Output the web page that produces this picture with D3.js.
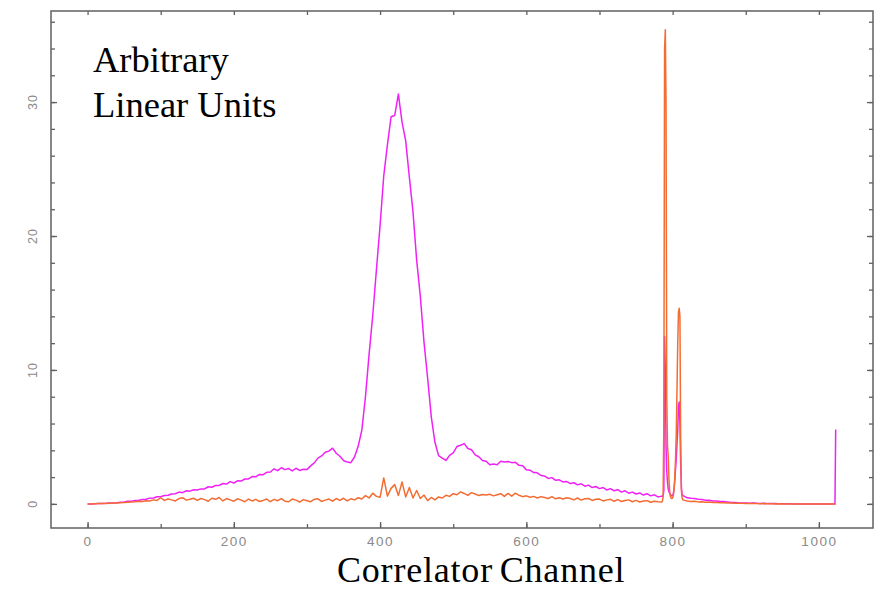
<!DOCTYPE html>
<html>
<head>
<meta charset="utf-8">
<script src="https://cdn.jsdelivr.net/npm/d3@7"></script>
<style>
  body { margin: 0; background: #fff; }
  svg { display: block; }
  .tick text { font-family: 'Liberation Sans', Arial, sans-serif; fill: #8a8a8a; }
  .label { font-family: 'Liberation Serif', 'Times New Roman', serif; fill: #000; }
</style>
</head>
<body>
<svg id="chart" width="888" height="590"></svg>
<script>
// correlator channels: coarse where smooth, every channel around the spikes
const channel = [].concat(
  d3.range(0, 786, 5),
  d3.range(786, 816),
  d3.range(820, 1021, 5),
  [1022, 1023]
)

// magenta trace
const magenta = [
  // 0 - 45
  0.00, 0.00, 0.01, 0.02, 0.03, 0.04, 0.06, 0.07, 0.09, 0.12,
  // 50 - 95
  0.14, 0.19, 0.20, 0.26, 0.27, 0.33, 0.34, 0.43, 0.44, 0.53,
  // 100 - 145
  0.54, 0.62, 0.64, 0.74, 0.76, 0.88, 0.84, 0.98, 0.95, 1.06,
  // 150 - 195
  1.04, 1.12, 1.12, 1.28, 1.24, 1.38, 1.38, 1.52, 1.48, 1.66,
  // 200 - 245
  1.56, 1.72, 1.70, 1.86, 1.86, 2.04, 2.02, 2.20, 2.18, 2.36,
  // 250 - 295
  2.38, 2.62, 2.48, 2.70, 2.56, 2.64, 2.46, 2.66, 2.50, 2.58,
  // 300 - 345
  2.56, 2.84, 3.06, 3.42, 3.58, 3.86, 3.94, 4.16, 3.78, 3.56,
  // 350 - 395
  3.24, 3.12, 3.08, 3.50, 4.30, 5.50, 8.00, 11.2, 14.1, 17.5,
  // 400 - 445
  20.8, 24.5, 26.8, 28.9, 29.0, 30.6, 28.5, 27.1, 24.4, 21.8,
  // 450 - 495
  18.2, 15.5, 12.1, 9.4, 6.5, 4.6, 3.6, 3.42, 3.24, 3.62,
  // 500 - 545
  3.80, 4.28, 4.38, 4.50, 4.14, 4.04, 3.66, 3.52, 3.24, 3.18,
  // 550 - 595
  2.92, 2.98, 2.92, 3.18, 3.12, 3.16, 3.08, 3.10, 2.88, 2.84,
  // 600 - 645
  2.54, 2.52, 2.34, 2.32, 2.12, 2.08, 1.90, 1.96, 1.76, 1.80,
  // 650 - 695
  1.64, 1.68, 1.52, 1.58, 1.42, 1.50, 1.32, 1.40, 1.22, 1.30,
  // 700 - 745
  1.14, 1.22, 1.04, 1.14, 0.98, 1.06, 0.88, 0.98, 0.80, 0.88,
  // 750 - 785
  0.74, 0.82, 0.66, 0.76, 0.60, 0.68, 0.52, 0.58,
  // 786 - 795
  0.56, 0.60, 1.0, 12.5, 10.0, 4.3, 2.4, 1.6, 1.1, 0.9,
  // 796 - 805
  0.80, 0.70, 0.64, 0.60, 0.64, 0.78, 1.15, 1.75, 2.6, 3.4,
  // 806 - 815
  4.5, 5.5, 7.3, 7.6, 6.0, 3.0, 1.2, 0.72, 0.62, 0.60,
  // 820 - 865
  0.45, 0.42, 0.40, 0.34, 0.32, 0.28, 0.27, 0.22, 0.22, 0.18,
  // 870 - 915
  0.17, 0.14, 0.10, 0.11, 0.08, 0.06, 0.07, 0.05, 0.06, 0.04,
  // 920 - 965
  0.03, 0.04, 0.02, 0.02, 0.02, 0.01, 0.01, 0.01, 0.01, 0.00,
  // 970 - 1015
  0.00, 0.00, 0.00, 0.00, 0.00, 0.00, 0.00, 0.00, 0.00, 0.00,
  // 1020, 1022, 1023
  0.00, 0.00, 5.55
]

// orange trace
const orange = [
  // 0 - 45
  0.00, 0.00, 0.01, 0.02, 0.02, 0.03, 0.05, 0.06, 0.07, 0.09,
  // 50 - 95
  0.10, 0.12, 0.14, 0.16, 0.19, 0.18, 0.24, 0.22, 0.30, 0.26,
  // 100 - 145
  0.46, 0.26, 0.36, 0.30, 0.22, 0.40, 0.46, 0.28, 0.34, 0.42,
  // 150 - 195
  0.26, 0.40, 0.32, 0.20, 0.42, 0.34, 0.48, 0.22, 0.40, 0.30,
  // 200 - 245
  0.20, 0.38, 0.28, 0.16, 0.36, 0.22, 0.34, 0.18, 0.26, 0.36,
  // 250 - 295
  0.16, 0.34, 0.24, 0.40, 0.20, 0.16, 0.36, 0.28, 0.14, 0.32,
  // 300 - 345
  0.24, 0.16, 0.34, 0.38, 0.18, 0.28, 0.36, 0.20, 0.40, 0.26,
  // 350 - 395
  0.42, 0.22, 0.38, 0.30, 0.46, 0.36, 0.62, 0.44, 0.80, 0.56,
  // 400 - 445
  0.50, 1.94, 0.58, 1.16, 1.44, 0.62, 1.64, 0.52, 1.22, 0.44,
  // 450 - 495
  1.00, 0.40, 0.66, 0.24, 0.48, 0.30, 0.52, 0.44, 0.64, 0.56,
  // 500 - 545
  0.76, 0.68, 0.90, 0.78, 0.64, 0.84, 0.74, 0.62, 0.70, 0.66,
  // 550 - 595
  0.72, 0.60, 0.68, 0.76, 0.56, 0.78, 0.58, 0.80, 0.64, 0.54,
  // 600 - 645
  0.60, 0.50, 0.56, 0.44, 0.54, 0.48, 0.40, 0.54, 0.38, 0.46,
  // 650 - 695
  0.36, 0.46, 0.40, 0.30, 0.44, 0.28, 0.38, 0.40, 0.26, 0.34,
  // 700 - 745
  0.36, 0.22, 0.30, 0.34, 0.20, 0.32, 0.18, 0.26, 0.30, 0.16,
  // 750 - 785
  0.26, 0.14, 0.22, 0.24, 0.12, 0.20, 0.16, 0.14,
  // 786 - 795
  0.20, 0.50, 6.0, 33.9, 35.4, 30.0, 8.0, 4.3, 3.6, 1.8,
  // 796 - 805
  0.90, 0.55, 0.42, 0.40, 0.45, 0.65, 1.1, 2.0, 3.4, 5.3,
  // 806 - 815
  8.5, 12.0, 14.3, 14.6, 14.0, 5.0, 1.0, 0.45, 0.30, 0.28,
  // 820 - 865
  0.22, 0.18, 0.20, 0.15, 0.16, 0.12, 0.14, 0.10, 0.11, 0.08,
  // 870 - 915
  0.09, 0.06, 0.07, 0.05, 0.05, 0.04, 0.03, 0.03, 0.02, 0.02,
  // 920 - 965
  0.01, 0.02, 0.01, 0.01, 0.00, 0.01, 0.00, 0.00, 0.00, 0.00,
  // 970 - 1015
  0.00, 0.00, 0.00, 0.00, 0.00, 0.00, 0.00, 0.00, 0.00, 0.00,
  // 1020, 1022, 1023
  0.00, 0.00, 0.00
]

const xMajorTicks = [0, 200, 400, 600, 800, 1000]
const xMinorTicks = [0, 100, 200, 300, 400, 500, 600, 700, 800, 900, 1000]
const yMajorTicks = [0, 10, 20, 30]
const yMinorTicks = d3.range(0, 37, 2)

var svg = d3.select('#chart')

var frame = { left: 51, right: 873, top: 11, bottom: 528 }

var x = d3.scaleLinear().domain([-50, 1074]).range([frame.left, frame.right])
var y = d3.scaleLinear().domain([-1.8, 36.8]).range([frame.bottom, frame.top])

// traces, orange drawn last so it sits on top at the spikes
var line = d3
  .line()
  .x(function (d) { return x(d[0]) })
  .y(function (d) { return y(d[1]) })

svg
  .append('path')
  .datum(d3.zip(channel, magenta))
  .attr('d', line)
  .attr('fill', 'none')
  .attr('stroke', '#ef22f6')
  .attr('stroke-width', 1.5)
  .attr('stroke-linejoin', 'round')

svg
  .append('path')
  .datum(d3.zip(channel, orange))
  .attr('d', line)
  .attr('fill', 'none')
  .attr('stroke', '#f36d33')
  .attr('stroke-width', 1.5)
  .attr('stroke-linejoin', 'round')

// axes on all four sides, ticks pointing inward
function tidy(g) {
  g.select('.domain').remove()
  g.selectAll('.tick line').attr('stroke', '#606060').attr('stroke-width', 1.3)
}

svg.append('g')
  .attr('transform', 'translate(0,' + frame.bottom + ')')
  .call(d3.axisBottom(x).tickValues(xMinorTicks).tickSize(-4).tickFormat(''))
  .call(tidy)
svg.append('g')
  .attr('transform', 'translate(0,' + frame.bottom + ')')
  .call(d3.axisBottom(x).tickValues(xMajorTicks).tickSize(-6).tickPadding(8).tickFormat(d3.format('d')))
  .call(tidy)
  .call(function (g) {
    g.selectAll('.tick text')
      .attr('font-size', 13.5)
      .attr('letter-spacing', 1.5)
      .attr('font-family', "'Liberation Sans', Arial, sans-serif")
  })
svg.append('g')
  .attr('transform', 'translate(0,' + frame.top + ')')
  .call(d3.axisTop(x).tickValues(xMinorTicks).tickSize(-4).tickFormat(''))
  .call(tidy)

svg.append('g')
  .attr('transform', 'translate(' + frame.left + ',0)')
  .call(d3.axisLeft(y).tickValues(yMinorTicks).tickSize(-4).tickFormat(''))
  .call(tidy)
svg.append('g')
  .attr('transform', 'translate(' + frame.left + ',0)')
  .call(d3.axisLeft(y).tickValues(yMajorTicks).tickSize(-6).tickFormat(''))
  .call(tidy)
svg.append('g')
  .attr('transform', 'translate(' + frame.right + ',0)')
  .call(d3.axisRight(y).tickValues(yMinorTicks).tickSize(-4).tickFormat(''))
  .call(tidy)
svg.append('g')
  .attr('transform', 'translate(' + frame.right + ',0)')
  .call(d3.axisRight(y).tickValues(yMajorTicks).tickSize(-6).tickFormat(''))
  .call(tidy)

// rotated y labels
svg.append('g')
  .selectAll('text')
  .data(yMajorTicks)
  .join('text')
  .attr('transform', function (d) { return 'translate(37,' + y(d) + ') rotate(-90)' })
  .attr('text-anchor', 'middle')
  .attr('font-family', "'Liberation Sans', Arial, sans-serif")
  .attr('font-size', 12.5)
  .attr('letter-spacing', 1)
  .attr('fill', '#8a8a8a')
  .text(function (d) { return d })

// frame
svg.append('rect')
  .attr('x', frame.left)
  .attr('y', frame.top)
  .attr('width', frame.right - frame.left)
  .attr('height', frame.bottom - frame.top)
  .attr('fill', 'none')
  .attr('stroke', '#606060')
  .attr('stroke-width', 1.5)

// annotations
var note = svg.append('text').attr('class', 'label').attr('font-size', 36.5)
note.append('tspan').attr('x', 93).attr('y', 72).text('Arbitrary')
note.append('tspan').attr('x', 93).attr('y', 117).text('Linear Units')

svg.append('text')
  .attr('class', 'label')
  .attr('x', 337)
  .attr('y', 582)
  .attr('font-size', 36)
  .attr('letter-spacing', 0.8)
  .attr('word-spacing', -3)
  .text('Correlator Channel')
</script>
</body>
</html>
